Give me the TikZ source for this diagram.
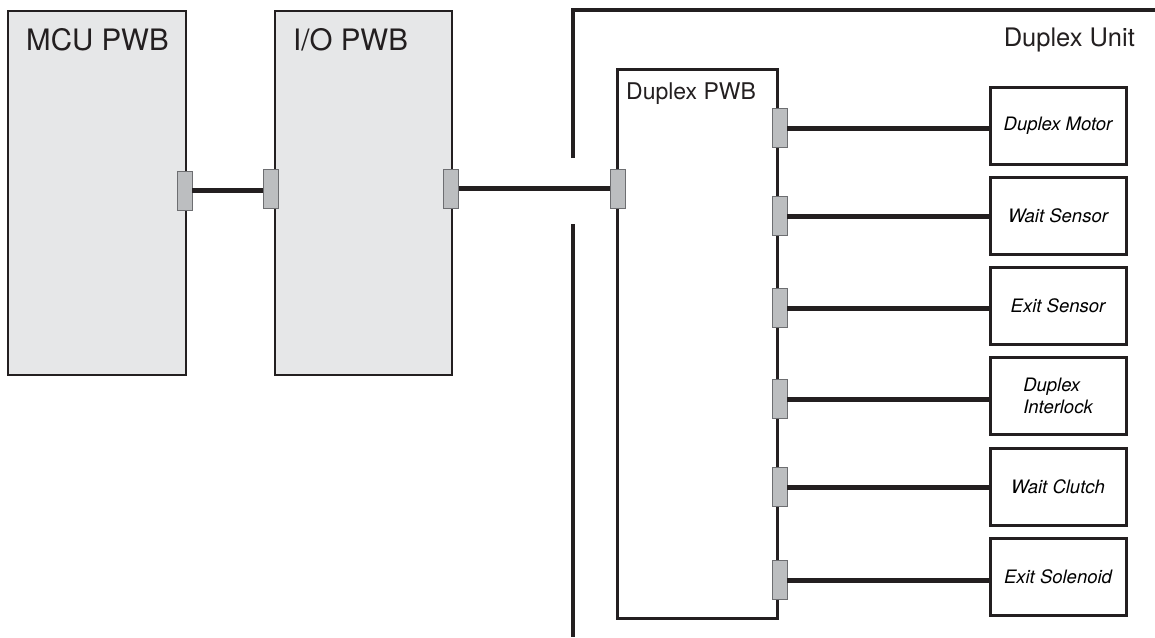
\documentclass[tikz,border=0pt]{standalone}
\usepackage{fontspec}
\setmainfont{TeX Gyre Heros}
\usetikzlibrary{positioning}

\definecolor{boardgray}{HTML}{E6E7E8}
\definecolor{conngray}{HTML}{BCBEC0}
\definecolor{connedge}{HTML}{6D6E71}
\definecolor{inkblack}{HTML}{231F20}

\begin{document}
\begin{tikzpicture}[x=1pt,y=-1pt]
\tikzset{
  board/.style={rectangle,draw=inkblack,line width=2pt,fill=boardgray,inner sep=0pt},
  subboard/.style={rectangle,draw=inkblack,line width=3pt,fill=white,inner sep=0pt},
  device/.style={rectangle,draw=inkblack,line width=3pt,fill=white,inner sep=0pt,
    minimum width=136pt,minimum height=77pt,align=left,font=\fontsize{18.5}{22}\selectfont\itshape},
  conn/.style={rectangle,draw=connedge,line width=0.8pt,fill=conngray,inner sep=0pt,
    minimum width=15pt,minimum height=39pt},
  harness/.style={draw=inkblack,line width=5pt},
  frame/.style={draw=inkblack,line width=3.5pt},
  boardtext/.style={anchor=base west,inner sep=0pt,text=inkblack}
}
\useasboundingbox (0,0) rectangle (1155,637);
% boards
\node[board,minimum width=178pt,minimum height=364pt] (mcu) at (97,193) {};
\node[board,minimum width=177pt,minimum height=364pt] (io) at (363.5,193) {};
\node[boardtext,font=\fontsize{29.5}{32}\selectfont] (mcu_t) at (26,50) {MCU PWB};
\node[boardtext,font=\fontsize{29.5}{32}\selectfont] (io_t) at (293,50) {I/O PWB};
% duplex unit
\draw[frame] (573,158) -- (573,10) -- (1155,10);
\draw[frame] (573,224) -- (573,637);
\node[boardtext,anchor=base east,font=\fontsize{25.5}{28}\selectfont] (unit_t) at (1135,46) {Duplex Unit};
\node[subboard,minimum width=160pt,minimum height=549pt] (dpwb) at (697,343.5) {};
\node[boardtext,font=\fontsize{23}{26}\selectfont] (dpwb_t) at (626,99) {Duplex PWB};
% devices
\node[device] (d_motor) at (1058,125.5) {Duplex Motor};
\node[device] (d_wait) at (1058,215.5) {Wait Sensor};
\node[device] (d_exit) at (1058,305.5) {Exit Sensor};
\node[device] (d_lock) at (1058,395.5) {Duplex\\Interlock};
\node[device] (d_clutch) at (1058,486.5) {Wait Clutch};
\node[device] (d_sol) at (1058,576.5) {Exit Solenoid};
% connectors
\node[conn] (c_mcu) at (184.5,190.5) {};
\node[conn] (c_io_l) at (270.5,188.5) {};
\node[conn] (c_io_r) at (451,188.5) {};
\node[conn] (c_dp_l) at (618,188.5) {};
\node[conn] (c_1) at (779.5,128) {};
\node[conn] (c_2) at (779.5,216) {};
\node[conn] (c_3) at (779.5,308) {};
\node[conn] (c_4) at (779.5,399) {};
\node[conn] (c_5) at (779.5,487) {};
\node[conn] (c_6) at (779.5,580) {};
% harnesses
\draw[harness] (c_mcu.east) -- (c_mcu.east -| c_io_l.west);
\draw[harness] (c_io_r.east) -- (c_io_r.east -| c_dp_l.west);
\draw[harness] (c_1.east) -- (c_1.east -| d_motor.west);
\draw[harness] (c_2.east) -- (c_2.east -| d_wait.west);
\draw[harness] (c_3.east) -- (c_3.east -| d_exit.west);
\draw[harness] (c_4.east) -- (c_4.east -| d_lock.west);
\draw[harness] (c_5.east) -- (c_5.east -| d_clutch.west);
\draw[harness] (c_6.east) -- (c_6.east -| d_sol.west);
\end{tikzpicture}
\end{document}
